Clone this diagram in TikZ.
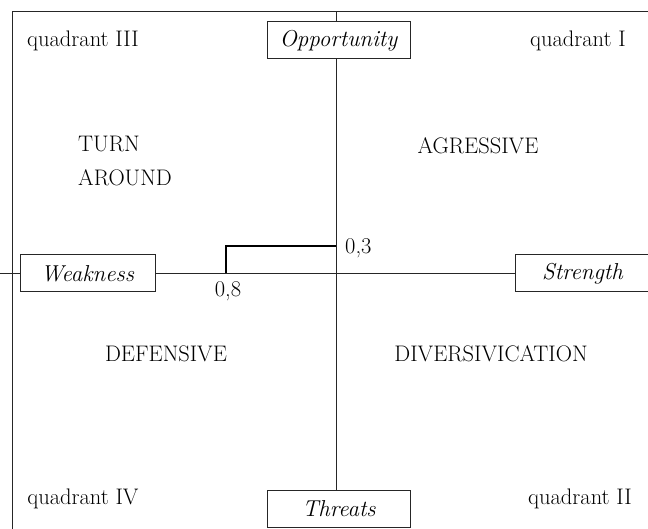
\documentclass[tikz,border=0pt]{standalone}
\begin{document}
\begin{tikzpicture}[x=1pt,y=-1pt,
  ln/.style={draw=black!85,line width=1pt},
  lbl/.style={font=\fontsize{22.5}{26}\selectfont,inner sep=0pt,text=black},
  axbox/.style={draw=black!85,line width=1pt,fill=white,inner sep=0pt,
    minimum width=143pt,minimum height=37pt,font=\fontsize{23}{26}\selectfont\itshape,text=black},
  bracket/.style={draw=black,line width=1.8pt}]
\useasboundingbox (0,0) rectangle (648,529);
% frame
\coordinate (fbl) at (12,535);
\coordinate (ftl) at (12,12);
\coordinate (ftr) at (655,12);
\draw[ln] (fbl) -- (ftl) -- (ftr);
% axis boxes
\node[axbox] (opp) at (338.5,40.5) {Opportunity};
\node[axbox] (thr) at (339,509) {Threats};
\node[axbox,minimum width=135pt] (weak) at (87.5,273.5) {Weakness};
\node[axbox,minimum width=135pt] (str) at (582.5,273.5) {Strength};
% axes
\coordinate (vtop) at (336,12);
\coordinate (hleft) at (0,273.5);
\coordinate (origin) at (336,273.5);
\draw[ln] (vtop) -- (opp.north -| vtop);
\draw[ln] (opp.south -| vtop) -- (thr.north -| vtop);
\draw[ln] (hleft) -- (weak.west);
\draw[ln] (weak.east) -- (str.west);
% bracket
\coordinate (b1) at (226,273.5);
\coordinate (b2) at (226,246);
\coordinate (b3) at (336,246);
\draw[bracket] (b1) -- (b2) -- (b3);
\node[lbl,anchor=base west] (v03) at (345,254) {0,3};
\node[lbl,anchor=base] (v08) at (228,297) {0,8};
% quadrant labels
\node[lbl,anchor=base] (q3) at (83,47) {quadrant III};
\node[lbl,anchor=base] (q1) at (578,47) {quadrant I};
\node[lbl,anchor=base] (q4) at (83,504) {quadrant IV};
\node[lbl,anchor=base] (q2) at (580,504) {quadrant II};
% strategy labels
\node[lbl,anchor=base west] (turn) at (78,152) {TURN};
\node[lbl,anchor=base west] (around) at (78,186) {AROUND};
\node[lbl,anchor=base] (agr) at (478,154) {AGRESSIVE};
\node[lbl,anchor=base] (def) at (166,362) {DEFENSIVE};
\node[lbl,anchor=base] (div) at (491,362) {DIVERSIVICATION};
\end{tikzpicture}
\end{document}
